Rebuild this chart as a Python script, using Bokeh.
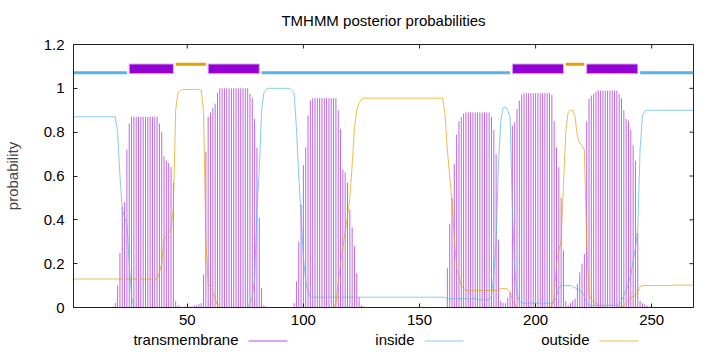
import math
from bokeh.plotting import figure
from bokeh.layouts import column
from bokeh.models import Range1d, FixedTicker, ColumnDataSource
from bokeh.core.properties import value
from bokeh.embed import file_html
from bokeh.resources import INLINE

# ---------------- data (per residue, 1..268) ----------------
residues = list(range(1, 269))

transmembrane = (
    [0.0] * 17
    + [0.005, 0.02, 0.10, 0.25, 0.46, 0.48, 0.72, 0.84]
    + [0.87] * 12
    + [0.84, 0.80, 0.69, 0.67, 0.66, 0.64, 0.57, 0.03, 0.01, 0.005]
    + [0.0, 0.005, 0.0, 0.0, 0.005, 0.01, 0.01, 0.015, 0.02]
    + [0.15, 0.71, 0.87, 0.89, 0.91, 0.93, 0.98]
    + [1.0] * 13
    + [0.975, 0.955, 0.86, 0.73, 0.41, 0.09, 0.01, 0.005]
    + [0.0] * 11
    + [0.02, 0.12, 0.30, 0.47, 0.65, 0.73, 0.876, 0.944]
    + [0.955] * 11
    + [0.90, 0.815, 0.63, 0.617, 0.57, 0.446, 0.366, 0.28, 0.156, 0.047, 0.01, 0.005]
    + [0.0] * 35
    + [0.18, 0.38, 0.50, 0.655, 0.79, 0.85, 0.87, 0.885]
    + [0.89] * 11
    + [0.87, 0.81, 0.70, 0.31, 0.03, 0.02, 0.02, 0.044, 0.07, 0.83, 0.845, 0.906, 0.944, 0.97]
    + [0.978] * 12
    + [0.97, 0.85, 0.73, 0.64, 0.50, 0.26, 0.03, 0.01, 0.02, 0.03, 0.04, 0.108, 0.16, 0.20, 0.245]
    + [0.85, 0.952, 0.967, 0.975, 0.985]
    + [0.99] * 9
    + [0.975, 0.955, 0.90, 0.86, 0.853, 0.81, 0.74, 0.67, 0.34, 0.03, 0.02, 0.015, 0.01, 0.005]
    + [0.0] * 19
)

inside = (
    [0.87] * 19
    + [0.80, 0.60, 0.45, 0.41, 0.38, 0.20, 0.05, 0.0]
    + [0.0] * 49
    + [0.02, 0.05, 0.13, 0.45, 0.62, 0.90, 0.98, 0.995]
    + [1.0] * 10
    + [0.99, 0.98, 0.82, 0.60, 0.42, 0.23, 0.12, 0.07, 0.05, 0.047]
    + [0.047] * 56
    + [0.045] + [0.04] * 14
    + [0.035] * 5
    + [0.05, 0.15, 0.30, 0.65, 0.85, 0.91, 0.915, 0.90, 0.87, 0.45, 0.18, 0.06, 0.03]
    + [0.02] * 14
    + [0.025, 0.05, 0.09, 0.10, 0.10, 0.10, 0.10, 0.10, 0.095, 0.09, 0.085, 0.08, 0.07, 0.05, 0.02]
    + [0.01] * 14
    + [0.03, 0.055, 0.08, 0.11, 0.15, 0.21, 0.27, 0.36, 0.72, 0.876, 0.895, 0.90]
    + [0.90] * 20
)

outside = (
    [0.13] * 36
    + [0.13, 0.16, 0.20, 0.31, 0.33, 0.34, 0.36, 0.45, 0.90, 0.98, 0.99]
    + [0.995] * 8
    + [0.99, 0.90, 0.30, 0.11, 0.09, 0.07, 0.04, 0.01]
    + [0.0] * 50
    + [0.02, 0.11, 0.20, 0.28, 0.34, 0.42, 0.50, 0.65, 0.82, 0.90, 0.935, 0.95]
    + [0.955] * 35
    + [0.88, 0.72, 0.60, 0.49, 0.32, 0.18, 0.14, 0.10, 0.085]
    + [0.078] * 15
    + [0.087, 0.087, 0.086, 0.085, 0.07, 0.035, 0.015, 0.0]
    + [0.0] * 14
    + [0.01, 0.05, 0.20, 0.26, 0.30, 0.56, 0.80, 0.89, 0.90, 0.90, 0.87, 0.78, 0.75, 0.74,
       0.72, 0.30, 0.06, 0.035, 0.025, 0.02, 0.01, 0.005]
    + [0.0] * 8
    + [0.005, 0.01, 0.02, 0.03, 0.045, 0.05, 0.055, 0.07, 0.095, 0.10]
    + [0.10] * 12
    + [0.102] * 10
)

# predicted topology
topo_start = [1, 25, 45, 59, 82, 190, 213, 222, 245]
topo_end = [24, 44, 58, 81, 189, 212, 221, 244, 268]
topo_type = ["inside", "TMhelix", "outside", "TMhelix", "inside",
             "TMhelix", "outside", "TMhelix", "inside"]

x_ticks = [50, 100, 150, 200, 250]
y_ticks = [0, 0.2, 0.4, 0.6, 0.8, 1, 1.2]
y_tick_labels = ["0", "0.2", "0.4", "0.6", "0.8", "1", "1.2"]

title_text = "TMHMM posterior probabilities"
legend_labels = ["transmembrane", "inside", "outside"]

# ---------------- style ----------------
C_TM = "#9400d3"
C_IN = "#56b4e9"
C_OUT = "#e69f00"
FONT = "Liberation Sans"
FS = "15px"
X0, X1 = 1, 268
Y0, Y1 = 0, 1.2
LEFT, RIGHT = 73, 27          # frame borders shared by all three strips
FR_L, FR_R = LEFT, 720 - RIGHT
HEAD_H, FOOT_H = 30, 21
MAIN_H = 352 - HEAD_H - FOOT_H


def strip(height, top_px):
    f = figure(width=720, height=height, title=None,
               x_range=Range1d(FR_L, FR_R), y_range=Range1d(top_px + height, top_px),
               x_axis_type=None, y_axis_type=None, output_backend="svg",
               toolbar_location=None, margin=0,
               min_border_left=LEFT, min_border_right=RIGHT,
               min_border_top=0, min_border_bottom=0)
    f.outline_line_color = None
    f.grid.visible = False
    return f


# ---- title strip ----
head = strip(HEAD_H, 0)
head.text(x=[383], y=[20], text=[title_text], text_align="center",
          text_baseline="alphabetic", text_font=value(FONT),
          text_font_size=value(FS), text_color="black")

# ---- main plot (frame at canvas x 73..693, y 44..307) ----
p = figure(width=720, height=MAIN_H, title=None,
           x_range=Range1d(X0, X1), y_range=Range1d(Y0, Y1),
           output_backend="svg", toolbar_location=None, margin=0,
           min_border_left=LEFT, min_border_right=RIGHT, min_border_top=44 - HEAD_H,
           min_border_bottom=24)
p.grid.visible = False
p.outline_line_color = "#222222"
p.outline_line_width = 1

for ax in (p.xaxis[0], p.yaxis[0]):
    ax.major_tick_in = 4
    ax.major_tick_out = 0
    ax.minor_tick_line_color = None
    ax.major_label_standoff = 7
    ax.major_label_text_font = FONT
    ax.major_label_text_font_size = FS
    ax.major_label_text_color = "black"
    ax.axis_line_color = "#222222"
    ax.major_tick_line_color = "#222222"

p.xaxis.ticker = FixedTicker(ticks=x_ticks)
p.yaxis.ticker = FixedTicker(ticks=y_ticks)
p.yaxis.major_label_standoff = 9
p.yaxis.major_label_overrides = {t: s for t, s in zip(y_ticks, y_tick_labels)}
p.yaxis.axis_label = "probability"
p.yaxis.axis_label_text_font = FONT
p.yaxis.axis_label_text_font_size = FS
p.yaxis.axis_label_text_font_style = "normal"
p.yaxis.axis_label_standoff = 20

# mirrored ticks on right and top borders
p.ray(x=[X1] * len(y_ticks), y=y_ticks, length=4, length_units="screen",
      angle=math.pi, line_color="#222222", line_width=1)
p.ray(x=x_ticks, y=[Y1] * len(x_ticks), length=4, length_units="screen",
      angle=-math.pi / 2, line_color="#222222", line_width=1)

# posterior curves
src = ColumnDataSource(dict(r=residues, tm=transmembrane, zero=[0] * len(residues),
                            ins=inside, out=outside))
p.segment(x0="r", y0="zero", x1="r", y1="tm", source=src, line_color=C_TM,
          line_width=1, line_alpha=0.6)
p.line(x="r", y="ins", source=src, line_color=C_IN, line_width=1, line_alpha=0.7)
p.line(x="r", y="out", source=src, line_color=C_OUT, line_width=1, line_alpha=0.7)

# topology bar
for s, e, t in zip(topo_start, topo_end, topo_type):
    if t == "inside":
        p.segment(x0=[s], y0=[1.071], x1=[e], y1=[1.071], line_color=C_IN, line_width=3)
    elif t == "outside":
        p.segment(x0=[s], y0=[1.1095], x1=[e], y1=[1.1095], line_color=C_OUT, line_width=3)
    else:
        p.quad(left=[s], right=[e], bottom=[1.067], top=[1.111], fill_color=C_TM,
               line_color="#d9a6f2", line_width=1)

# ---- legend strip, gnuplot style: label then sample ----
foot = strip(FOOT_H, 352 - FOOT_H)
leg_text_right = [238, 414, 589]
leg_line_left = [248, 424, 599]
leg_colors = [C_TM, C_IN, C_OUT]
foot.text(x=leg_text_right, y=[338.5] * 3, text=legend_labels, text_align="right",
          text_baseline="alphabetic", text_font=value(FONT), text_font_size=value(FS),
          text_color="black")
foot.segment(x0=leg_line_left, y0=[340.5] * 3, x1=[v + 39 for v in leg_line_left],
             y1=[340.5] * 3, line_color=leg_colors, line_width=1, line_alpha=0.7)

layout = column(head, p, foot, spacing=0, margin=0)
open("out.html", "w").write(file_html(layout, INLINE))
